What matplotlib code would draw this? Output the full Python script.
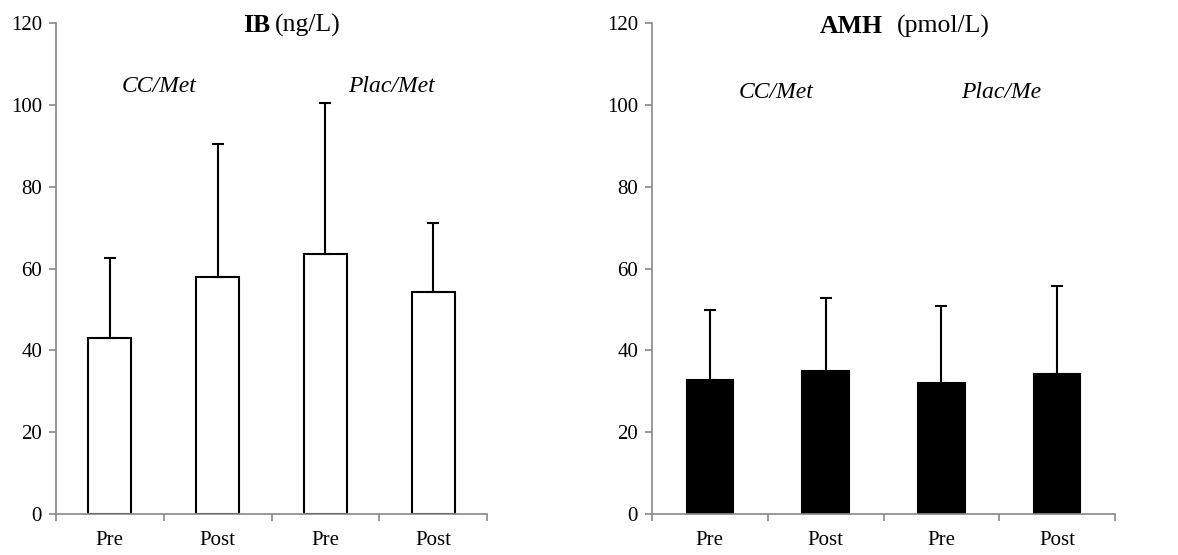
import matplotlib.pyplot as plt
import numpy as np

# data
categories = ["Pre", "Post", "Pre", "Post"]
ib_mean = [43.0, 58.0, 63.5, 54.3]
ib_sd = [19.5, 32.5, 37.0, 16.9]
amh_mean = [32.8, 35.0, 32.0, 34.3]
amh_sd = [17.1, 17.9, 18.8, 21.4]

plt.rcParams["font.family"] = "Liberation Serif"

fig = plt.figure(figsize=(11.78, 5.55), dpi=100)
ax1 = fig.add_axes([56 / 1178, 41 / 555, 431 / 1178, 491 / 555])
ax2 = fig.add_axes([652 / 1178, 41 / 555, 463 / 1178, 491 / 555])

x = np.arange(len(categories))


def draw(ax, means, sds, color):
    ax.bar(x, means, width=0.4, color=color, edgecolor="black", linewidth=1.5, zorder=2)
    ax.errorbar(x, means, yerr=[np.zeros(len(sds)), sds], fmt="none",
                ecolor="black", elinewidth=1.5, capsize=4.5, capthick=1.5, zorder=3)
    ax.set_xlim(-0.5, len(categories) - 0.5)
    ax.set_ylim(0, 120)
    ax.set_yticks(range(0, 121, 20))
    ax.set_xticks(x)
    ax.set_xticklabels(categories)
    ax.set_xticks(np.arange(-0.5, len(categories)), minor=True)
    ax.tick_params(axis="x", which="major", length=0, pad=12, labelsize=15)
    ax.tick_params(axis="x", which="minor", length=5, color="#888888", width=1.2)
    ax.tick_params(axis="y", length=5, color="#888888", width=1.2, pad=5, labelsize=15)
    for s in ["top", "right"]:
        ax.spines[s].set_visible(False)
    for s in ["left", "bottom"]:
        ax.spines[s].set_color("#888888")
        ax.spines[s].set_linewidth(1.2)


draw(ax1, ib_mean, ib_sd, "white")
draw(ax2, amh_mean, amh_sd, "black")

# titles
fig.text(270 / 1178, 1 - 32 / 555, "IB", fontsize=18.5, fontweight="bold", ha="right", va="baseline")
fig.text(275 / 1178, 1 - 32 / 555, "(ng/L)", fontsize=18.5, ha="left", va="baseline")
fig.text(883 / 1178, 1 - 33 / 555, "AMH", fontsize=18.5, fontweight="bold", ha="right", va="baseline")
fig.text(897 / 1178, 1 - 33 / 555, "(pmol/L)", fontsize=18.5, ha="left", va="baseline")

# group labels
fig.text(159 / 1178, 1 - 92 / 555, "CC/Met", fontsize=17, style="italic", ha="center", va="baseline")
fig.text(391 / 1178, 1 - 92 / 555, "Plac/Met", fontsize=17, style="italic", ha="center", va="baseline")
fig.text(776 / 1178, 1 - 98 / 555, "CC/Met", fontsize=17, style="italic", ha="center", va="baseline")
fig.text(1001 / 1178, 1 - 98 / 555, "Plac/Me", fontsize=17, style="italic", ha="center", va="baseline")

plt.savefig("out.png", dpi=100)
